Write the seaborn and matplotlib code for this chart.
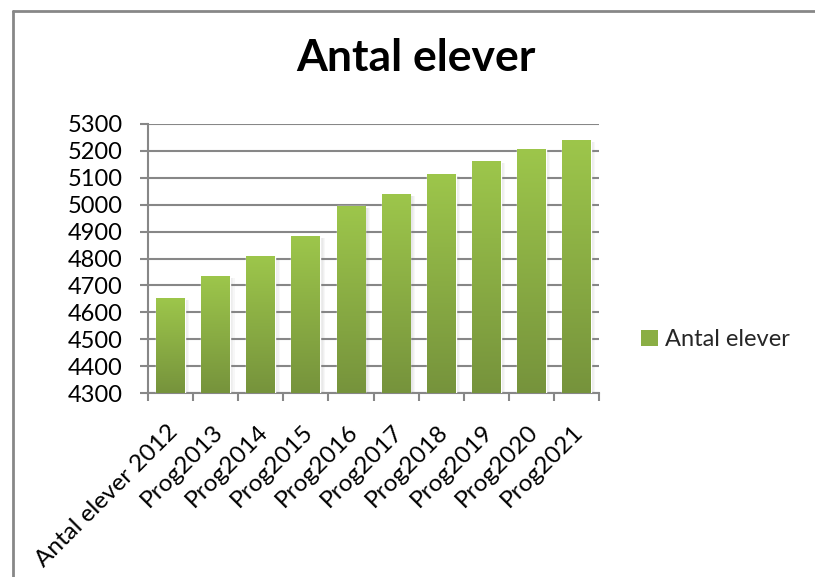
"""Antal elever: stapeldiagram i Excel-stil."""

import matplotlib.pyplot as plt
import matplotlib.transforms as mtransforms
import numpy as np
import seaborn as sns
from matplotlib.colors import LinearSegmentedColormap
from matplotlib.lines import Line2D
from matplotlib.patches import Patch, Rectangle

CATEGORIES = [
    "Antal elever 2012",
    "Prog2013",
    "Prog2014",
    "Prog2015",
    "Prog2016",
    "Prog2017",
    "Prog2018",
    "Prog2019",
    "Prog2020",
    "Prog2021",
]
ANTAL = [4652, 4734, 4809, 4883, 4995, 5039, 5114, 5162, 5207, 5240]
Y_TICKS = list(range(4300, 5301, 100))
TITLE = "Antal elever"
SERIES = "Antal elever"

GRID = "#878787"
TOP_GREEN = "#9dc64b"
BOTTOM_GREEN = "#76933c"

sns.set_theme(style="white")
plt.rcParams["font.family"] = ["Lato", "DejaVu Sans"]

W, H = 815, 577
fig = plt.figure(figsize=(W / 100, H / 100), dpi=100)
ax = fig.add_axes([148 / W, 1 - 393 / H, (599 - 148) / W, (393 - 124) / H])

sns.barplot(x=CATEGORIES, y=ANTAL, color=BOTTOM_GREEN, width=0.64,
            errorbar=None, ax=ax, zorder=3)

ymin, ymax = Y_TICKS[0], Y_TICKS[-1]
cmap = LinearSegmentedColormap.from_list("green", [BOTTOM_GREEN, TOP_GREEN])
grad = np.linspace(0, 1, 256).reshape(-1, 1)
for bar in list(ax.patches):
    x0 = bar.get_x()
    w = bar.get_width()
    top = bar.get_y() + bar.get_height()
    # mjuk skugga till hoger om stapeln
    for i in range(4):
        ax.add_patch(Rectangle((x0 + w, ymin), 0.025 * (i + 1), top - ymin - 8,
                               color="#808080", alpha=0.06, lw=0, zorder=2))
    ax.imshow(grad, extent=(x0, x0 + w, ymin, top), origin="lower",
              cmap=cmap, aspect="auto", zorder=3)

ax.set_xlim(-0.5, len(CATEGORIES) - 0.5)
ax.set_ylim(ymin, ymax)

ax.set_yticks(Y_TICKS)
ax.yaxis.grid(True, color=GRID, lw=1.5)
ax.set_axisbelow(True)
for side in ["top", "right"]:
    ax.spines[side].set_visible(False)
for side in ["left", "bottom"]:
    ax.spines[side].set_color(GRID)
    ax.spines[side].set_linewidth(1.5)

ax.tick_params(axis="y", direction="out", length=6, width=1.5, color=GRID,
               pad=12, labelsize=17, labelcolor="black", left=True)
ax.set_xticks(range(len(CATEGORIES)))
ax.set_xticklabels(CATEGORIES, rotation=45, ha="right", rotation_mode="anchor")
ax.set_xticks(np.arange(-0.5, len(CATEGORIES), 1), minor=True)
ax.tick_params(axis="x", which="major", length=0, pad=20, labelsize=17.5,
               labelcolor="black")
ax.tick_params(axis="x", which="minor", direction="out", length=6, width=1.5,
               color=GRID, bottom=True)
shift = mtransforms.ScaledTranslation(-4 / 100, 0, fig.dpi_scale_trans)
for label in ax.get_xticklabels():
    label.set_transform(label.get_transform() + shift)
ax.set_xlabel("")
ax.set_ylabel("")

fig.text(416 / W, 1 - 58 / H, TITLE, ha="center", va="center",
         fontsize=32, fontweight="bold", color="black")

handle = Patch(facecolor="#8aae44", edgecolor="none", label=SERIES)
ax.legend(handles=[handle], loc="center left",
          bbox_to_anchor=(641 / W, 1 - 340 / H), bbox_transform=fig.transFigure,
          frameon=False, fontsize=17, handlelength=0.7, handleheight=0.68,
          handletextpad=0.3, borderpad=0, borderaxespad=0)

fig.add_artist(Line2D([13 / W, 13 / W], [0, 1 - 11 / H], transform=fig.transFigure,
                      color=GRID, lw=2))
fig.add_artist(Line2D([13 / W, 1], [1 - 11 / H, 1 - 11 / H], transform=fig.transFigure,
                      color=GRID, lw=2))

fig.savefig("out.png", dpi=100)
